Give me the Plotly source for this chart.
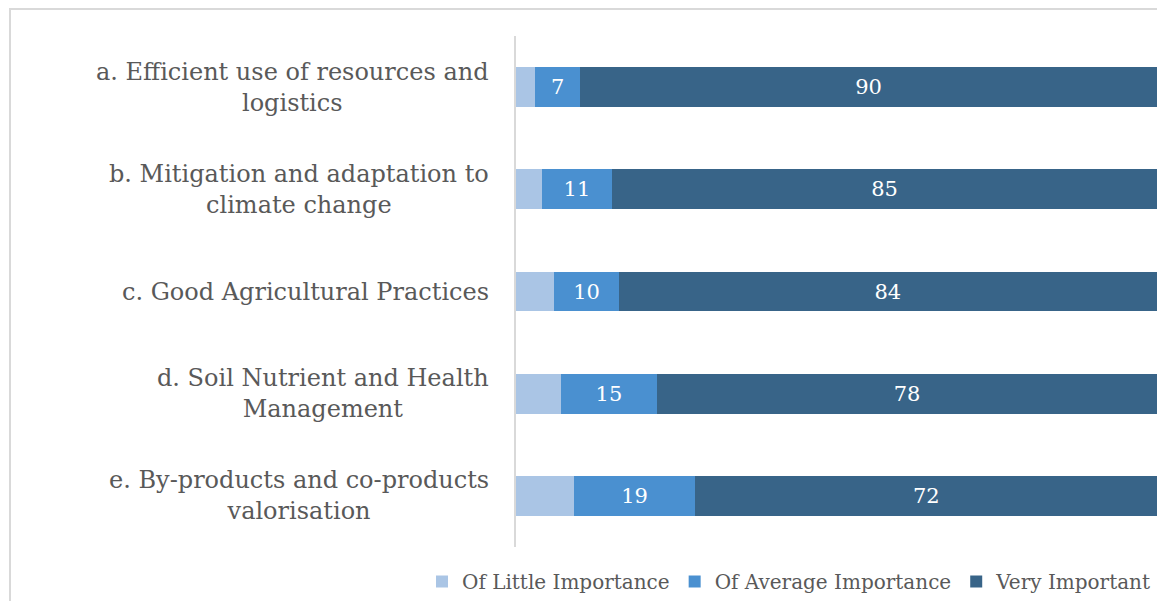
import plotly.graph_objects as go

categories = [
    "a. Efficient use of resources and<br>logistics",
    "b. Mitigation and adaptation to<br>climate change",
    "c. Good Agricultural Practices",
    "d. Soil Nutrient and Health<br>Management",
    "e. By-products and co-products<br>valorisation",
]
little = [3, 4, 6, 7, 9]
average = [7, 11, 10, 15, 19]
very = [90, 85, 84, 78, 72]
series_names = ["Of Little Importance", "Of Average Importance", "Very Important"]
colors = ["#AAC5E5", "#4A90D0", "#386488"]

FONT = "DejaVu Serif"
TXT = "#595959"

W, H = 1157, 601
L, T, B, R = 516, 36, 54, 0

fig = go.Figure()
fig.add_trace(go.Bar(y=categories, x=little, orientation="h", name=series_names[0],
                     marker=dict(color=colors[0], line=dict(width=0))))
fig.add_trace(go.Bar(y=categories, x=average, orientation="h", name=series_names[1],
                     marker=dict(color=colors[1], line=dict(width=0)),
                     text=average, texttemplate="%{text}", textposition="inside",
                     insidetextanchor="middle",
                     textfont=dict(color="white", size=21, family=FONT)))
fig.add_trace(go.Bar(y=categories, x=very, orientation="h", name=series_names[2],
                     marker=dict(color=colors[2], line=dict(width=0)),
                     text=very, texttemplate="%{text}", textposition="inside",
                     insidetextanchor="middle",
                     textfont=dict(color="white", size=21, family=FONT)))

pw = W - L - R
ph = H - T - B
def px_x(x):
    return (x - L) / pw
def px_y(y):
    return (H - B - y) / ph

fig.add_shape(type="rect", xref="paper", yref="paper",
              x0=px_x(10), x1=px_x(1180), y0=px_y(625), y1=px_y(9),
              line=dict(color="#D9D9D9", width=2), fillcolor="rgba(0,0,0,0)", layer="below")

# category labels: centered multi-line text, right edge near the axis
label_x = px_x(491)
for cat in categories:
    fig.add_annotation(text=cat, xref="paper", yref="y", x=label_x, y=cat,
                       xanchor="right", yanchor="middle", align="center", showarrow=False,
                       font=dict(family=FONT, size=24, color=TXT))

fig.update_layout(
    width=W, height=H,
    margin=dict(l=L, r=R, t=T, b=B),
    barmode="stack",
    bargap=0.61,
    plot_bgcolor="white", paper_bgcolor="white",
    font=dict(family=FONT, color=TXT),
    uniformtext=dict(mode="show", minsize=10),
    xaxis=dict(range=[0, 100], showgrid=False, showticklabels=False, zeroline=False,
               showline=False, fixedrange=True),
    yaxis=dict(autorange="reversed", showgrid=False, showline=True, linecolor="#D9D9D9",
               linewidth=2, ticks="", showticklabels=False, fixedrange=True),
    legend=dict(orientation="h", x=px_x(423), xanchor="left", y=px_y(582), yanchor="middle",
                font=dict(size=20, color=TXT, family=FONT),
                traceorder="normal", itemwidth=30),
    showlegend=True,
)

fig.write_html("out.html", config={"displayModeBar": False},
               post_script="document.body.style.margin='0';document.body.style.overflow='hidden';")
